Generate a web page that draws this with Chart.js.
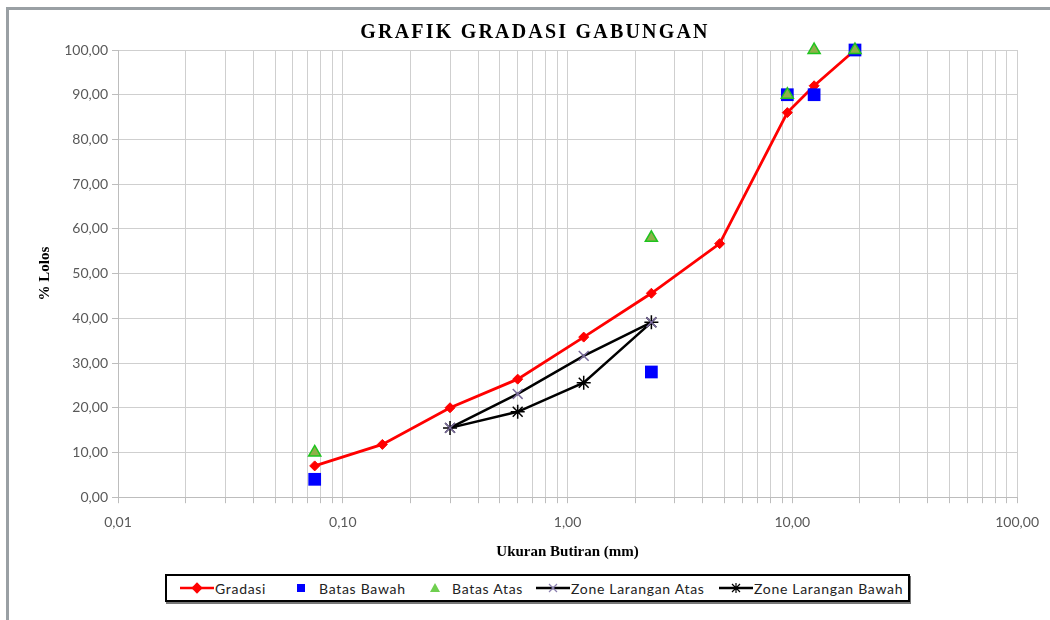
<!DOCTYPE html>
<html>
<head>
<meta charset="utf-8">
<script src="https://cdn.jsdelivr.net/npm/chart.js@4/dist/chart.umd.min.js"></script>
<style>
  html, body { margin: 0; padding: 0; background: #fff; }
  #page { position: relative; width: 1050px; height: 620px; overflow: hidden; }
  #frame { position: absolute; left: 6px; top: 7px; width: 1044px; height: 613px;
           border-left: 3px solid #9aa0a4; border-top: 3px solid #9aa0a4; }
  #wrap { position: absolute; left: 0; top: 0; width: 1050px; height: 568px; }
  #legend { position: absolute; left: 165px; top: 574px; width: 741px; height: 24px;
            border: 2px solid #000; box-shadow: 1px 2px 0 #777; background: #fff;
            font-family: Lato, 'Liberation Sans', sans-serif; font-size: 14px; color: #222; }
  .item { position: absolute; top: 0; height: 24px; display: flex; align-items: center; white-space: nowrap; letter-spacing: 0.7px; }
  .item svg { display: block; }
</style>
</head>
<body>
<div id="page">
  <div id="frame"></div>
  <div id="wrap"><canvas id="chart"></canvas></div>
  <div id="legend"></div>
</div>
<script>
// --- Data ---
const sieveSizes = [0.075, 0.15, 0.3, 0.6, 1.18, 2.36, 4.75, 9.5, 12.5, 19];
const gradasi = [7.0, 11.8, 20.0, 26.4, 35.8, 45.6, 56.7, 86.0, 92.0, 100.0];

const batasSizes = [0.075, 2.36, 9.5, 12.5, 19];
const batasBawah = [4, 28, 90, 90, 100];
const batasAtas = [10, 58, 90, 100, 100];

const zoneSizes = [0.3, 0.6, 1.18, 2.36];
const zoneAtas = [15.5, 23.1, 31.6, 39.1];
const zoneBawah = [15.5, 19.1, 25.6, 39.1];

const majorTicks = [0.01, 0.1, 1, 10, 100];
const yTicks = [0, 10, 20, 30, 40, 50, 60, 70, 80, 90, 100];

const toPoints = (xs, ys) => xs.map((x, i) => ({ x: x, y: ys[i] }));
const fmt = (v) => v.toFixed(2).replace('.', ',');

// minor log grid: 1..9 per decade
const xGrid = [];
majorTicks.slice(0, -1).forEach(dec => {
    for (let m = 1; m <= 9; m++) xGrid.push(m * dec);
});
xGrid.push(majorTicks[majorTicks.length - 1]);

// --- Title drawn a bit left of chart centre like the original ---
const titlePlugin = {
    id: 'bigTitle',
    afterDraw(chart) {
        const ctx = chart.ctx;
        ctx.save();
        ctx.font = 'bold 20px "Liberation Serif", serif';
        ctx.letterSpacing = '2.2px';
        ctx.fillStyle = '#000';
        ctx.textAlign = 'center';
        ctx.textBaseline = 'middle';
        ctx.fillText('GRAFIK GRADASI GABUNGAN', 535, 33);
        ctx.restore();
    }
};

const ctx = document.getElementById('chart');
new Chart(ctx, {
    type: 'line',
    data: {
        datasets: [{
            label: 'Gradasi',
            data: toPoints(sieveSizes, gradasi),
            borderColor: '#ff0000',
            backgroundColor: '#ff0000',
            borderWidth: 2.8,
            pointStyle: 'rectRot',
            pointRadius: 5,
            pointBorderWidth: 1,
            clip: false,
            order: 3
        }, {
            label: 'Batas Bawah',
            data: toPoints(batasSizes, batasBawah),
            showLine: false,
            pointStyle: 'rect',
            pointRadius: 9,
            pointBackgroundColor: '#0000ff',
            pointBorderColor: '#0000ff',
            pointBorderWidth: 0,
            clip: false,
            order: 1
        }, {
            label: 'Batas Atas',
            data: toPoints(batasSizes, batasAtas),
            showLine: false,
            pointStyle: 'triangle',
            pointRadius: 7,
            pointBackgroundColor: '#8fb04a',
            pointBorderColor: '#1fc41f',
            pointBorderWidth: 1.5,
            clip: false,
            order: 0
        }, {
            label: 'Zone Larangan Atas',
            data: toPoints(zoneSizes, zoneAtas),
            borderColor: '#000',
            borderWidth: 2.5,
            pointStyle: 'crossRot',
            pointRadius: 7,
            pointBorderColor: '#7a6b9c',
            pointBorderWidth: 1.5,
            clip: false,
            order: 2
        }, {
            label: 'Zone Larangan Bawah',
            data: toPoints(zoneSizes, zoneBawah),
            borderColor: '#000',
            borderWidth: 2.5,
            pointStyle: 'star',
            pointRadius: 7,
            pointBorderColor: '#000',
            pointBorderWidth: 1.5,
            clip: false,
            order: 2
        }]
    },
    options: {
        responsive: true,
        maintainAspectRatio: false,
        animation: false,
        layout: { padding: { top: 50, left: 10, right: 32, bottom: 3 } },
        plugins: {
            legend: { display: false },
            tooltip: { enabled: false }
        },
        elements: { line: { tension: 0 } },
        scales: {
            x: {
                type: 'logarithmic',
                min: 0.01,
                max: 100,
                afterBuildTicks: (scale) => { scale.ticks = xGrid.map(v => ({ value: v })); },
                ticks: {
                    autoSkip: false,
                    maxRotation: 0,
                    padding: 11,
                    color: '#595959',
                    font: { family: 'Lato', size: 14 },
                    callback: (v) => majorTicks.includes(v) ? fmt(v) : ''
                },
                grid: { color: '#cfcfcf', tickLength: 6, tickColor: '#bdbdbd' },
                border: { color: '#bdbdbd' },
                title: {
                    display: true,
                    text: 'Ukuran Butiran (mm)',
                    color: '#000',
                    font: { family: '"Liberation Serif", serif', size: 15, weight: 'bold' },
                    padding: { top: 1, bottom: 4 }
                }
            },
            y: {
                min: 0,
                max: 100,
                afterBuildTicks: (scale) => { scale.ticks = yTicks.map(v => ({ value: v })); },
                afterFit: (scale) => { scale.width = 108; },
                ticks: {
                    padding: 4,
                    color: '#595959',
                    font: { family: 'Lato', size: 14 },
                    callback: (v) => fmt(v)
                },
                grid: { color: '#cfcfcf', tickLength: 6, tickColor: '#bdbdbd' },
                border: { color: '#bdbdbd' },
                title: {
                    display: true,
                    text: '% Lolos',
                    color: '#000',
                    font: { family: '"Liberation Serif", serif', size: 15, weight: 'bold' },
                    padding: { top: 26, bottom: 4 }
                }
            }
        }
    },
    plugins: [titlePlugin]
});

// --- HTML legend (line + marker like the original) ---
const legendItems = [
    { text: 'Gradasi', left: 12, icon: '<svg width="36" height="12"><line x1="1" y1="6" x2="35" y2="6" stroke="#f00" stroke-width="2.5"/><rect x="14" y="2" width="8" height="8" fill="#f00" transform="rotate(45 18 6)"/></svg>' },
    { text: 'Batas Bawah', left: 122, icon: '<svg width="30" height="12"><rect x="8" y="2" width="8" height="8" fill="#00f"/></svg>' },
    { text: 'Batas Atas', left: 259, icon: '<svg width="26" height="12"><polygon points="9,1 14,10 4,10" fill="#6fcf4f"/></svg>' },
    { text: 'Zone Larangan Atas', left: 368, icon: '<svg width="36" height="12"><line x1="1" y1="6" x2="35" y2="6" stroke="#000" stroke-width="2.5"/><path d="M14 2 L22 10 M22 2 L14 10" stroke="#8c80b0" stroke-width="1.2"/></svg>' },
    { text: 'Zone Larangan Bawah', left: 551, icon: '<svg width="36" height="12"><line x1="1" y1="6" x2="35" y2="6" stroke="#000" stroke-width="2.5"/><path d="M14 2 L22 10 M22 2 L14 10 M18 1 L18 11" stroke="#000" stroke-width="1.2"/></svg>' }
];
const legend = document.getElementById('legend');
legendItems.forEach(it => {
    const el = document.createElement('div');
    el.className = 'item';
    el.style.left = it.left + 'px';
    el.innerHTML = it.icon + '<span>' + it.text + '</span>';
    legend.appendChild(el);
});
</script>
</body>
</html>
